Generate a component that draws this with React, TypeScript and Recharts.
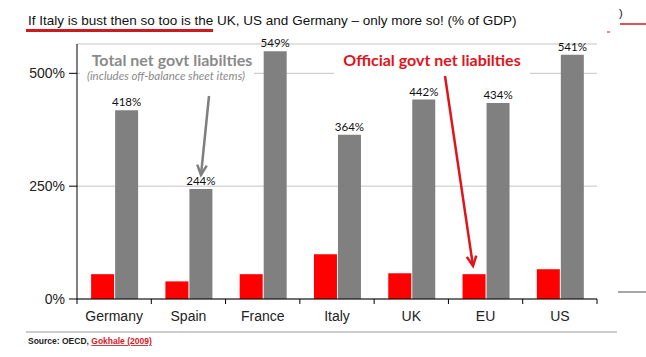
import { BarChart, Bar, XAxis, YAxis, CartesianGrid, LabelList } from "recharts";

// #region Data
const categories = ["Germany", "Spain", "France", "Italy", "UK", "EU", "US"];
const officialLiabilities = [55, 39, 55, 99, 57, 55, 66];
const totalLiabilities = [418, 244, 549, 364, 442, 434, 541];
const yTicks = [0, 250, 500];
// #endregion

const data = categories.map((name, i) => ({
  name,
  official: officialLiabilities[i],
  total: totalLiabilities[i],
}));

const W = 646;
const H = 357;
const PLOT_LEFT = 77;
const PLOT_RIGHT = 597;
const BAND = (PLOT_RIGHT - PLOT_LEFT) / categories.length;
const FONT = "'Liberation Sans', Arial, sans-serif";
const CAL = "Lato, 'Noto Sans', sans-serif";

const XTick = (props: any) => {
  const { x, y, payload, index } = props;
  const left = x - BAND / 2;
  return (
    <g>
      <line x1={left} x2={left} y1={y} y2={y + 5} stroke="#000" />
      {index === categories.length - 1 && (
        <line x1={x + BAND / 2} x2={x + BAND / 2} y1={y} y2={y + 5} stroke="#000" />
      )}
      <text x={x} y={y + 22} textAnchor="middle" fontSize={14} fontFamily={FONT} fill="#222">
        {payload.value}
      </text>
    </g>
  );
};

const TopLabel = (props: any) => {
  const { x, y, width, value } = props;
  return (
    <text x={x + width / 2} y={y - 4} textAnchor="middle" fontSize={11.5} fontFamily={CAL} fill="#111">
      {value}%
    </text>
  );
};

// open chevron at the tip of an arrow
const arrowHead = (x1: number, y1: number, x2: number, y2: number, len = 11, spread = 0.45) => {
  const a = Math.atan2(y2 - y1, x2 - x1);
  const p1 = [x2 - len * Math.cos(a - spread), y2 - len * Math.sin(a - spread)];
  const p2 = [x2 - len * Math.cos(a + spread), y2 - len * Math.sin(a + spread)];
  return `M${p1[0]},${p1[1]} L${x2},${y2} L${p2[0]},${p2[1]}`;
};

const App = () => {
  return (
    <div style={{ position: "absolute", left: 0, top: 0, width: W, height: H, background: "#fff" }}>
      <BarChart
        width={W}
        height={H}
        data={data}
        margin={{ top: 44, right: W - PLOT_RIGHT, left: 0, bottom: 28 }}
        barCategoryGap="19%"
        barGap={1}
      >
        <CartesianGrid vertical={false} stroke="#c4c4c4" />
        <XAxis
          dataKey="name"
          height={30}
          axisLine={{ stroke: "#000" }}
          tickLine={false}
          tickSize={0}
          tickMargin={0}
          tick={<XTick />}
          interval={0}
        />
        <YAxis
          width={PLOT_LEFT}
          domain={[0, 565]}
          ticks={yTicks}
          tickFormatter={(v) => `${v}%`}
          axisLine={{ stroke: "#000" }}
          tickLine={{ stroke: "#000" }}
          tickSize={8}
          tickMargin={4}
          tick={{ fontSize: 14, fontFamily: FONT, fill: "#222" }}
        />
        <Bar dataKey="official" fill="#ff0000" isAnimationActive={false} />
        <Bar dataKey="total" fill="#808080" isAnimationActive={false}>
          <LabelList dataKey="total" content={<TopLabel />} />
        </Bar>
      </BarChart>

      <svg width={W} height={H} style={{ position: "absolute", left: 0, top: 0, pointerEvents: "none" }}>
        {/* title */}
        <text x={28} y={25} fontSize={13.5} fontFamily={FONT} fill="#111">
          If Italy is bust then so too is the UK, US and Germany – only more so! (% of GDP)
        </text>
        <line x1={26} x2={213} y1={30.5} y2={30.5} stroke="#d0191f" strokeWidth={3} />
        <text x={619} y={17} fontSize={11} fontFamily={FONT} fill="#111">)</text>
        <line x1={620} x2={646} y1={24} y2={24} stroke="#d0191f" strokeWidth={1.5} />
        <line x1={607} x2={610} y1={32} y2={32} stroke="#d0191f" strokeWidth={1} />
        <line x1={618} x2={646} y1={292} y2={292} stroke="#888" strokeWidth={1.5} />

        {/* total liabilities annotation */}
        <rect x={80} y={48} width={174} height={34} fill="#fff" />
        <text x={172} y={66} textAnchor="middle" fontSize={16} fontWeight="bold" fontFamily={CAL} fill="#8a8a8a">
          Total net govt liabilties
        </text>
        <text x={166} y={80} textAnchor="middle" fontSize={11.5} fontStyle="italic" fontFamily={CAL} fill="#8a8a8a">
          (includes off-balance sheet items)
        </text>
        <path d="M209,96 L201,175" stroke="#7f7f7f" strokeWidth={2.5} fill="none" />
        <path d={arrowHead(209, 96, 201, 175)} stroke="#7f7f7f" strokeWidth={2.5} fill="none" />

        {/* official liabilities annotation */}
        <rect x={334} y={48} width={196} height={30} fill="#fff" />
        <text x={432} y={66} textAnchor="middle" fontSize={16} fontWeight="bold" fontFamily={CAL} fill="#e0141b">
          Official govt net liabilties
        </text>
        <path d="M445,76 L473,266" stroke="#e0141b" strokeWidth={2.5} fill="none" />
        <path d={arrowHead(445, 76, 473, 266)} stroke="#e0141b" strokeWidth={2.5} fill="none" />

        {/* source */}
        <line x1={26} x2={617} y1={332} y2={332} stroke="#9a9a9a" strokeWidth={1} />
        <text x={28} y={344} fontSize={8.5} fontWeight="bold" fontFamily={FONT} fill="#222">
          Source: OECD,{" "}
          <tspan fill="#d0191f" textDecoration="underline">Gokhale (2009)</tspan>
        </text>
      </svg>
    </div>
  );
};

export default App;
